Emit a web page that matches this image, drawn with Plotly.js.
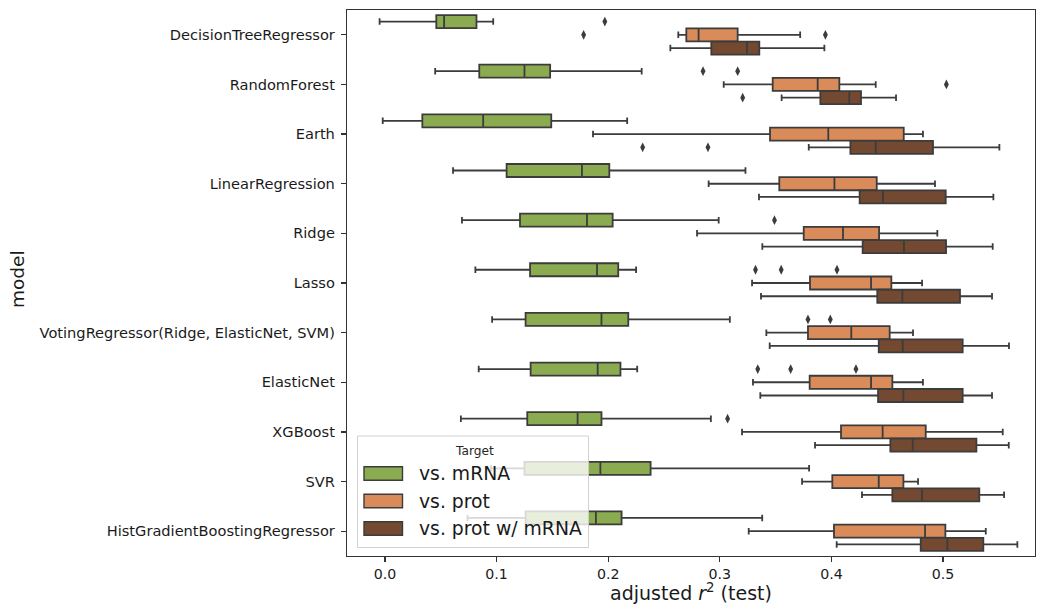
<!DOCTYPE html>
<html>
<head>
<meta charset="utf-8">
<script src="https://cdn.plot.ly/plotly-3.0.1.min.js"></script>
<style>
  html, body { margin: 0; padding: 0; background: #ffffff; }
  #chart { width: 1037px; height: 604px; }
</style>
</head>
<body>
<div id="chart"></div>
<script>
// ---------------- data ----------------
const models = [
  "DecisionTreeRegressor", "RandomForest", "Earth", "LinearRegression", "Ridge",
  "Lasso", "VotingRegressor(Ridge, ElasticNet, SVM)", "ElasticNet", "XGBoost",
  "SVR", "HistGradientBoostingRegressor"
];
const targets = ["vs. mRNA", "vs. prot", "vs. prot w/ mRNA"];

// vs. mRNA
const mrnaLow  = [-0.0048, 0.045, -0.002, 0.061, 0.069, 0.081, 0.096, 0.084, 0.068, 0.095, 0.074];
const mrnaQ1   = [0.046, 0.0845, 0.0335, 0.109, 0.121, 0.130, 0.126, 0.1305, 0.1275, 0.125, 0.126];
const mrnaMed  = [0.053, 0.125, 0.088, 0.1765, 0.181, 0.190, 0.194, 0.1906, 0.1726, 0.193, 0.189];
const mrnaQ3   = [0.082, 0.148, 0.149, 0.201, 0.204, 0.209, 0.218, 0.211, 0.194, 0.238, 0.212];
const mrnaHigh = [0.097, 0.230, 0.217, 0.323, 0.299, 0.225, 0.309, 0.226, 0.292, 0.380, 0.338];
const mrnaOutModel = [0, 1, 1, 4, 5, 5, 5, 6, 6, 7, 7, 7, 8];
const mrnaOutValue = [0.197, 0.285, 0.316, 0.349, 0.332, 0.355, 0.405, 0.379, 0.399, 0.334, 0.3635, 0.422, 0.307];

// vs. prot
const protLow  = [0.2628, 0.3035, 0.1864, 0.290, 0.2796, 0.3289, 0.3417, 0.3297, 0.3199, 0.3737, 0.3259];
const protQ1   = [0.270, 0.3474, 0.345, 0.3533, 0.3752, 0.3808, 0.379, 0.3805, 0.4086, 0.4008, 0.4023];
const protMed  = [0.281, 0.3877, 0.3972, 0.4027, 0.4104, 0.4355, 0.4178, 0.4355, 0.4459, 0.4424, 0.4839];
const protQ3   = [0.316, 0.4071, 0.4648, 0.4406, 0.4427, 0.4537, 0.4522, 0.4546, 0.4845, 0.4645, 0.5021];
const protHigh = [0.372, 0.4397, 0.482, 0.4928, 0.4949, 0.4812, 0.4731, 0.482, 0.5535, 0.4776, 0.5383];
const protOutModel = [0, 0, 1];
const protOutValue = [0.178, 0.3946, 0.503];

// vs. prot w/ mRNA
const bothLow  = [0.2557, 0.3554, 0.3797, 0.3351, 0.3381, 0.3369, 0.3447, 0.3363, 0.3853, 0.4274, 0.4047];
const bothQ1   = [0.2924, 0.3901, 0.417, 0.4253, 0.428, 0.4411, 0.4424, 0.4418, 0.4528, 0.4546, 0.480];
const bothMed  = [0.3244, 0.416, 0.4397, 0.4462, 0.465, 0.4636, 0.4639, 0.4645, 0.4728, 0.4812, 0.5039];
const bothQ3   = [0.3354, 0.4265, 0.491, 0.5024, 0.5027, 0.5152, 0.5176, 0.5176, 0.5299, 0.5325, 0.5361];
const bothHigh = [0.3937, 0.4579, 0.5505, 0.5451, 0.5445, 0.5439, 0.5591, 0.5439, 0.5589, 0.5547, 0.5666];
const bothOutModel = [1, 2, 2];
const bothOutValue = [0.3205, 0.2309, 0.2894];

// ---------------- styling ----------------
const colors = ["#8aab4f", "#d98c5a", "#744931"];
const edge = "#3c3c3c";
const hueOffset = [-0.8 / 3, 0, 0.8 / 3];
const boxWidth = 0.262;

const groups = [
  {low: mrnaLow, q1: mrnaQ1, med: mrnaMed, q3: mrnaQ3, high: mrnaHigh, om: mrnaOutModel, ov: mrnaOutValue},
  {low: protLow, q1: protQ1, med: protMed, q3: protQ3, high: protHigh, om: protOutModel, ov: protOutValue},
  {low: bothLow, q1: bothQ1, med: bothMed, q3: bothQ3, high: bothHigh, om: bothOutModel, ov: bothOutValue}
];

const traces = [];
groups.forEach((g, h) => {
  traces.push({
    type: "box",
    orientation: "h",
    name: targets[h],
    y: models.map((m, i) => i + hueOffset[h]),
    q1: g.q1, median: g.med, q3: g.q3,
    lowerfence: g.low, upperfence: g.high,
    width: boxWidth,
    whiskerwidth: 0.5,
    fillcolor: colors[h],
    line: {color: edge, width: 1.8},
    boxpoints: false,
    hoverinfo: "x",
    showlegend: false
  });
});
groups.forEach((g, h) => {
  traces.push({
    type: "scatter",
    mode: "markers",
    name: targets[h] + " outliers",
    x: g.ov,
    y: g.om.map(i => i + hueOffset[h]),
    marker: {symbol: "diamond-tall", size: 7, color: edge, line: {width: 0}},
    showlegend: false,
    hoverinfo: "x"
  });
});

// ---------------- layout ----------------
const W = 1037, H = 604;
const M = {l: 347, r: 2, t: 10, b: 48};
const pw = W - M.l - M.r, ph = H - M.t - M.b;
const px = x => (x - M.l) / pw;
const py = y => 1 - (y - M.t) / ph;

const shapes = [];
const annotations = [];
// legend frame
shapes.push({
  type: "rect", xref: "paper", yref: "paper", layer: "above",
  x0: px(357.5), x1: px(588.5), y0: py(547.5), y1: py(436),
  fillcolor: "rgba(255,255,255,0.8)",
  line: {color: "rgba(204,204,204,0.9)", width: 1}
});
annotations.push({
  xref: "paper", yref: "paper", x: px(474), y: py(450.5),
  xanchor: "center", yanchor: "middle", showarrow: false,
  text: "Target", font: {family: "DejaVu Sans", size: 12.2, color: "#262626"}
});
const entryY = [473.5, 501, 528.5];
targets.forEach((t, h) => {
  shapes.push({
    type: "rect", xref: "paper", yref: "paper", layer: "above",
    x0: px(364), x1: px(402.5), y0: py(entryY[h] + 6.8), y1: py(entryY[h] - 6.8),
    fillcolor: colors[h], line: {color: edge, width: 1.4}
  });
  annotations.push({
    xref: "paper", yref: "paper", x: px(416.5), y: py(entryY[h]),
    xanchor: "left", yanchor: "middle", showarrow: false,
    text: t, font: {family: "DejaVu Sans", size: 18.8, color: "#1a1a1a"}
  });
});
// y-axis title
annotations.push({
  xref: "paper", yref: "paper", x: px(17), y: py(279),
  xanchor: "center", yanchor: "middle", showarrow: false, textangle: -90,
  text: "model", font: {family: "DejaVu Sans", size: 18.5, color: "#1a1a1a"}
});

const layout = {
  width: W, height: H,
  margin: M,
  paper_bgcolor: "#ffffff",
  plot_bgcolor: "#ffffff",
  boxmode: "overlay",
  showlegend: false,
  font: {family: "DejaVu Sans", color: "#1a1a1a"},
  xaxis: {
    range: [-0.034, 0.5824],
    dtick: 0.1, tick0: 0, tickformat: ".1f",
    ticks: "outside", ticklen: 5, tickwidth: 1.2, tickcolor: "#333333",
    showline: true, linecolor: "#333333", linewidth: 1.2, mirror: true,
    showgrid: false, zeroline: false,
    tickfont: {family: "DejaVu Sans", size: 14.2, color: "#1a1a1a"},
    title: {text: "adjusted <i>r</i><sup>2</sup> (test)", font: {family: "DejaVu Sans", size: 19, color: "#1a1a1a"}, standoff: 9}
  },
  yaxis: {
    range: [10.5, -0.5],
    tickvals: models.map((m, i) => i),
    ticktext: models,
    ticks: "outside", ticklen: 5, tickwidth: 1.2, tickcolor: "#333333",
    ticklabelstandoff: 3,
    showline: true, linecolor: "#333333", linewidth: 1.2, mirror: true,
    showgrid: false, zeroline: false,
    tickfont: {family: "DejaVu Sans", size: 14.6, color: "#1a1a1a"}
  },
  shapes: shapes,
  annotations: annotations
};

Plotly.newPlot("chart", traces, layout, {displayModeBar: false, staticPlot: true});
</script>
</body>
</html>
